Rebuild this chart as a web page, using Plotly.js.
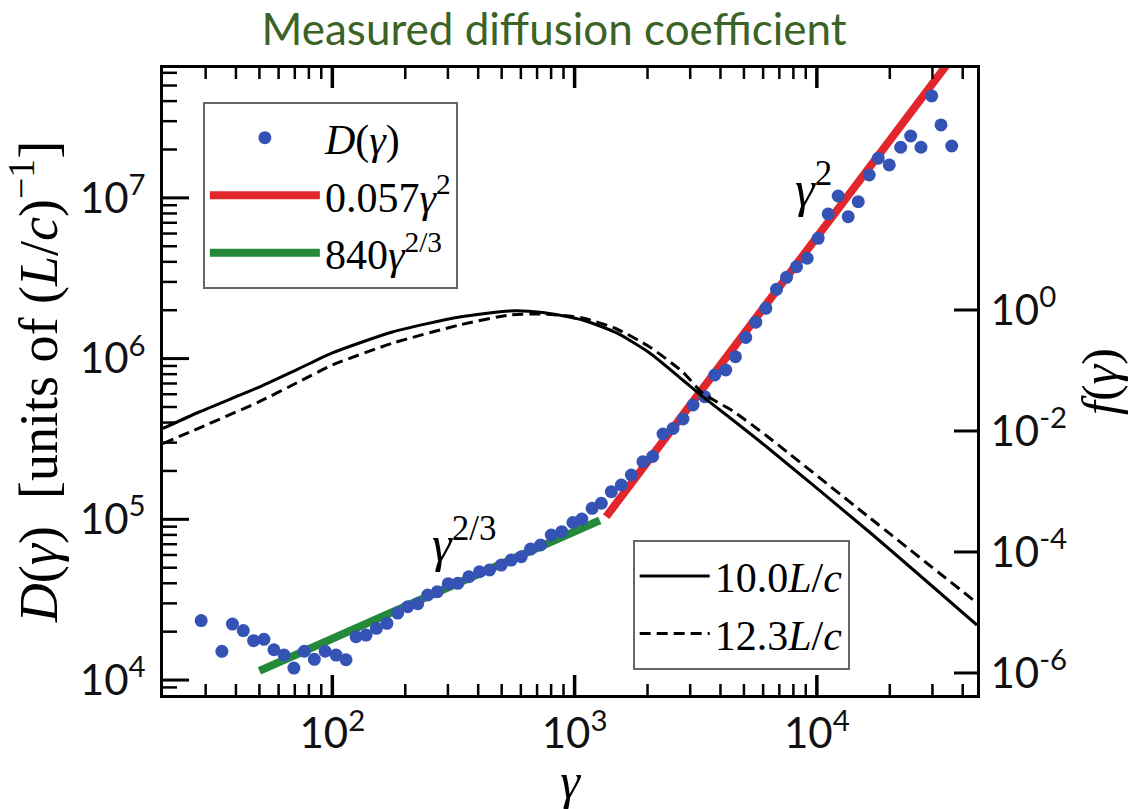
<!DOCTYPE html>
<html><head><meta charset="utf-8">
<script src="https://cdn.plot.ly/plotly-3.0.1.min.js"></script>
<style>html,body{margin:0;padding:0;background:#fff}#chart{width:1140px;height:809px}</style>
</head><body><div id="chart"></div>
<script>
// Measured D(gamma) points
const gammaD = [28.75, 35.0, 38.7, 42.9, 47.3, 52.2, 57.4, 63.2, 69.4, 76.6, 84.3, 93.4, 103.6, 113.9, 125.3, 137.8, 152, 168, 186.1, 204.7, 225.2, 247.6, 271.1, 301, 329.5, 365.8, 405, 445.6, 498, 547.6, 602.3, 658, 723.5, 801, 885.2, 984, 1071, 1181, 1289, 1418, 1560, 1715, 1915, 2100, 2317, 2548, 2802, 3083, 3445, 3789, 4207, 4613, 5088, 5596, 6157, 6815, 7497, 8244, 9118, 10125, 11136, 12246, 13468, 14818, 16450, 17920, 19900, 22180, 24390, 26900, 29790, 32540, 36030];
const valuesD = [23460, 15090, 22310, 20320, 17570, 17920, 15440, 14310, 11880, 15110, 13450, 15110, 14310, 13380, 18600, 19050, 20980, 22540, 26120, 28580, 29840, 33810, 35440, 39750, 39970, 43940, 47200, 48370, 51950, 55810, 58510, 65340, 69200, 79880, 83740, 95520, 100400, 117100, 125800, 148500, 163500, 188700, 228300, 245900, 339500, 367300, 420900, 514400, 579300, 790700, 849200, 1027000, 1353000, 1684000, 2056000, 2699000, 3205000, 3732000, 4209000, 5605000, 7940000, 10270000, 7640000, 9470000, 13880000, 17640000, 16020000, 20650000, 24270000, 20650000, 43070000, 28420000, 21030000];

// Fit lines (end points)
const fitHighGamma = [1350, 48000];
const fitHighD = [103900, 131300000];
const fitLowGamma = [50, 1270];
const fitLowD = [11400, 98600];

// f(gamma) distributions (right axis)
const fGamma  = [20, 28.2, 49.9, 73.1, 100, 177, 335, 539, 738, 1079, 1492, 2042, 2795, 3381, 4497, 6215, 16560, 45800];
const fSolid  = [0.011, 0.0206, 0.0533, 0.108, 0.195, 0.433, 0.766, 0.963, 0.909, 0.684, 0.417, 0.195, 0.0697, 0.0369, 0.0152, 0.00544, 0.00021, 0.0000062];
const fDashed = [0.0062, 0.0112, 0.0305, 0.0656, 0.123, 0.282, 0.565, 0.827, 0.859, 0.738, 0.485, 0.245, 0.0944, 0.042, 0.0214, 0.00826, 0.000365, 0.0000144];

// Names, tick labels, annotations
const seriesNames = ['<i>D</i>(<i>γ</i>)', '0.057<i>γ</i><sup>2</sup>', '840<i>γ</i><sup>2/3</sup>', '10.0<i>L</i>/<i>c</i>', '12.3<i>L</i>/<i>c</i>'];
const xTickVals = [100, 1000, 10000];
const xTickText = ['10<sup>2</sup>', '10<sup>3</sup>', '10<sup>4</sup>'];
const yTickVals = [1e4, 1e5, 1e6, 1e7];
const yTickText = ['10<sup>4</sup>', '10<sup>5</sup>', '10<sup>6</sup>', '10<sup>7</sup>'];
const y2TickVals = [1e-6, 1e-4, 1e-2, 1];
const y2TickText = ['10<sup>-6</sup>', '10<sup>-4</sup>', '10<sup>-2</sup>', '10<sup>0</sup>'];
const annoTexts = ['<i>γ</i><sup>2/3</sup>', '<i>γ</i><sup>2</sup>'];
const annoGamma = [351, 9730];
const annoD = [74300, 12000000];

const X_RANGE = [Math.log10(20), 4.661];
const Y_RANGE = [3.907, 7.808];
const Y2_RANGE = [-6.364, 4.0];

function minorTicks(lo, hi, range) {
  const out = [];
  for (let e = lo; e <= hi; e++) for (let m = 2; m <= 9; m++) {
    const v = m * Math.pow(10, e);
    const l = Math.log10(v);
    if (l > range[0] + 0.005 && l < range[1] - 0.005) out.push(v);
  }
  return out;
}
const xMinor = minorTicks(1, 4, X_RANGE);
const yMinor = minorTicks(3, 7, Y_RANGE);

const SERIF = 'Liberation Serif, Times New Roman, serif';
const SANS = 'Lato, Open Sans, sans-serif';
const BLUE = '#3553b5', RED = '#e2262b', GREEN = '#24893a';

const traces = [
  {x: fitLowGamma, y: fitLowD, mode: 'lines', name: seriesNames[2], line: {color: GREEN, width: 8}, legend: 'legend', legendrank: 3},
  {x: fitHighGamma, y: fitHighD, mode: 'lines', name: seriesNames[1], line: {color: RED, width: 8}, legend: 'legend', legendrank: 2},
  {x: gammaD, y: valuesD, mode: 'markers', name: seriesNames[0], marker: {color: BLUE, size: 13}, legend: 'legend', legendrank: 1},
  {x: fGamma, y: fSolid, yaxis: 'y2', mode: 'lines', name: seriesNames[3], line: {color: '#000', width: 3, shape: 'spline', smoothing: 0.6}, legend: 'legend2', legendrank: 1},
  {x: fGamma, y: fDashed, yaxis: 'y2', mode: 'lines', name: seriesNames[4], line: {color: '#000', width: 3, dash: '11px,6px', shape: 'spline', smoothing: 0.6}, legend: 'legend2', legendrank: 2}
];

// Tick marks placed through the axes (data values on x / y / y2, pixel lengths)
const shapes = [];
function xTick(v, len, w) {
  shapes.push({type: 'line', xref: 'x', yref: 'paper', x0: v, x1: v, ysizemode: 'pixel', yanchor: 0, y0: 0, y1: len, line: {color: '#000', width: w}});
  shapes.push({type: 'line', xref: 'x', yref: 'paper', x0: v, x1: v, ysizemode: 'pixel', yanchor: 1, y0: 0, y1: -len, line: {color: '#000', width: w}});
}
function yTick(v, len, w, axis, side) {
  shapes.push({type: 'line', xref: 'paper', yref: axis, y0: v, y1: v, xsizemode: 'pixel', xanchor: side, x0: 0, x1: side === 0 ? len : -len, line: {color: '#000', width: w}});
}
xTickVals.forEach(v => xTick(v, 20, 3.5));
xMinor.forEach(v => xTick(v, 11, 2.5));
yTickVals.forEach(v => yTick(v, 26, 3, 'y', 0));
yMinor.forEach(v => yTick(v, 14, 2.5, 'y', 0));
y2TickVals.forEach(v => yTick(v, 23, 3, 'y2', 1));

const tickfont = {family: SANS, size: 42, color: '#111'};
const axisCommon = {
  type: 'log', showgrid: false, zeroline: false, showline: true, linecolor: '#000', linewidth: 3,
  ticks: 'inside', ticklen: 1, tickwidth: 1, tickcolor: '#000', tickmode: 'array', tickfont: tickfont
};

const layout = {
  width: 1140, height: 809,
  margin: {l: 163, r: 163, t: 68, b: 114, pad: 0},
  paper_bgcolor: '#fff', plot_bgcolor: '#fff',
  showlegend: true,
  title: {text: 'Measured diffusion coefficient', font: {family: SANS, size: 44, color: '#3b6326'},
          x: 0.486, xref: 'container', xanchor: 'center', y: 0.963, yref: 'container', yanchor: 'middle'},
  xaxis: Object.assign({}, axisCommon, {
    range: X_RANGE, mirror: true,
    tickvals: xTickVals, ticktext: xTickText, ticklabelstandoff: 0,
    title: {text: '<i>γ</i>', font: {family: SERIF, size: 50, color: '#000'}, standoff: 12}
  }),
  yaxis: Object.assign({}, axisCommon, {
    range: Y_RANGE, mirror: false,
    tickvals: yTickVals, ticktext: yTickText, ticklabelstandoff: 6,
    title: {text: '<i>D</i>(<i>γ</i>)\u2002[units of (<i>L</i>/<i>c</i>)<sup>\u22121</sup>]', font: {family: SERIF, size: 54, color: '#000'}, standoff: 14}
  }),
  yaxis2: Object.assign({}, axisCommon, {
    range: Y2_RANGE, overlaying: 'y', side: 'right', anchor: 'x',
    tickvals: y2TickVals, ticktext: y2TickText, ticklabelstandoff: 2,
    title: {text: '<i>f</i>(<i>γ</i>)', font: {family: SERIF, size: 50, color: '#000'}, standoff: 16}
  }),
  shapes: shapes,
  legend: {x: 0.049, y: 0.946, xanchor: 'left', yanchor: 'top', bgcolor: 'rgba(255,255,255,0.9)', itemwidth: 110,
           bordercolor: '#666', borderwidth: 2, font: {family: SERIF, size: 42, color: '#000'}, traceorder: 'normal'},
  legend2: {x: 0.577, y: 0.247, xanchor: 'left', yanchor: 'top', bgcolor: 'rgba(255,255,255,0.9)', itemwidth: 70,
            bordercolor: '#666', borderwidth: 2, font: {family: SERIF, size: 42, color: '#000'}, traceorder: 'normal'},
  annotations: annoTexts.map((t, i) => ({
    text: t, xref: 'x', yref: 'y', x: Math.log10(annoGamma[i]), y: Math.log10(annoD[i]),
    showarrow: false, font: {family: SERIF, size: 50, color: '#000'}
  }))
};

Plotly.newPlot('chart', traces, layout, {displayModeBar: false, staticPlot: true});
</script>
</body></html>
